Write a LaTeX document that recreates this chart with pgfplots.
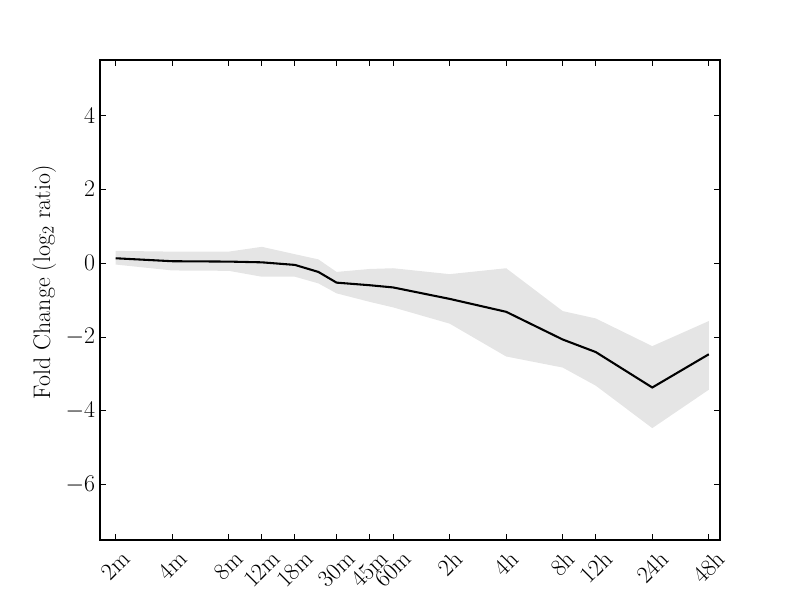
\documentclass[border=0pt]{standalone}
\usepackage{pgfplots}
\pgfplotsset{compat=1.18}
\pgfplotstableread{
x      mid
1.000  0.13
2.000  0.05
3.000  0.04
3.585  0.02
4.170 -0.05
4.585 -0.24
4.907 -0.53
5.492 -0.60
5.907 -0.66
6.907 -0.97
7.907 -1.32
8.907 -2.07
9.492 -2.41
10.492 -3.37
11.492 -2.47
}\data
\pgfplotstableread{
x      y
1.000  0.33
2.000  0.31
3.000  0.31
3.585  0.44
4.170  0.24
4.585  0.10
4.907 -0.24
5.492 -0.16
5.907 -0.14
6.907 -0.30
7.907 -0.14
8.907 -1.30
9.492 -1.50
10.492 -2.25
11.492 -1.57
11.492 -3.43
10.492 -4.47
9.492 -3.32
8.907 -2.83
7.907 -2.53
6.907 -1.64
5.907 -1.20
5.492 -1.05
4.907 -0.82
4.585 -0.55
4.170 -0.37
3.585 -0.37
3.000 -0.21
2.000 -0.20
1.000 -0.04
}\band
\begin{document}
\begin{tikzpicture}
\useasboundingbox (0,0) rectangle (8in,6in);
\begin{axis}[
  at={(1in,0.6in)}, anchor=south west,
  scale only axis, width=6.2in, height=4.8in,
  xmin=0.722, xmax=11.69, ymin=-7.5, ymax=5.5,
  xtick={1,2,3,3.585,4.170,4.907,5.492,5.907,6.907,7.907,8.907,9.492,10.492,11.492},
  xticklabels={\rotatebox{45}{2m},\rotatebox{45}{4m},\rotatebox{45}{8m},\rotatebox{45}{12m},\rotatebox{45}{18m},\rotatebox{45}{30m},\rotatebox{45}{45m},\rotatebox{45}{60m},\rotatebox{45}{2h},\rotatebox{45}{4h},\rotatebox{45}{8h},\rotatebox{45}{12h},\rotatebox{45}{24h},\rotatebox{45}{48h}},
  ytick={-6,-4,-2,0,2,4},
  tick align=inside, major tick length=4pt,
  tick style={black, line width=0.6pt},
  axis line style={line width=0.8pt},
  tick label style={font=\fontsize{17.28}{20}\selectfont},
  xticklabel style={anchor=north, yshift=-3pt},
  ylabel={Fold Change (log$_2$ ratio)},
  ylabel style={font=\fontsize{17.28}{20}\selectfont, at={(axis description cs:-0.063,0.537)}, anchor=south},
]
\addplot[fill=black!10, draw=none] table[x=x, y=y] {\band} -- cycle;
\addplot[black, line width=1.5pt] table[x=x, y=mid] {\data};
\end{axis}
\end{tikzpicture}
\end{document}
